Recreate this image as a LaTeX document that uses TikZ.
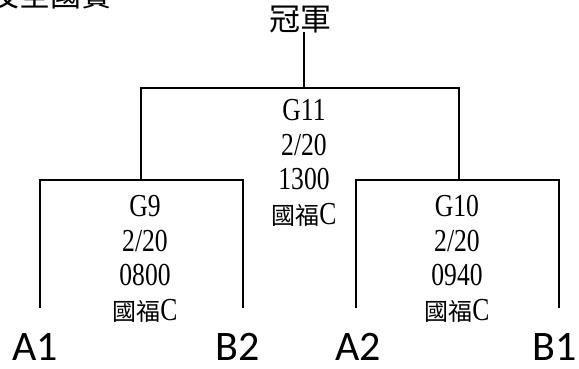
\documentclass[tikz,border=0pt]{standalone}
\usepackage{fontspec}
\setmainfont{Liberation Serif}[FakeStretch=0.8]
\newfontfamily\cjk{Noto Sans CJK TC}
\newfontfamily\teamfont{Carlito}
\newcommand{\cj}[1]{{\cjk\fontsize{24}{34.5}\selectfont #1}}
\begin{document}
\begin{tikzpicture}[x=1pt,y=-1pt,
  br/.style={line width=1.8pt,line cap=rect},
  lbl/.style={align=center,inner sep=0pt,font=\fontsize{32}{34.5}\selectfont},
  team/.style={inner sep=0pt,anchor=base,font=\teamfont\fontsize{42}{42}\selectfont},
  ttl/.style={inner sep=0pt,font=\cjk\fontsize{31}{31}\selectfont}]
\useasboundingbox (0,0) rectangle (579,368);
% cut-off heading at the top left
\begin{scope}
\clip (0,0) rectangle (579,368);
\node[ttl,anchor=south west] (head) at (-12,9) {及全國賽};
\end{scope}
\node[ttl] (champ) at (300,20) {冠軍};
% bracket points
\coordinate (c0) at (304,32);
\coordinate (c1) at (304,88);
\coordinate (tl) at (141,88);
\coordinate (tr) at (459,88);
\coordinate (ml) at (141,180);
\coordinate (mr) at (459,180);
\coordinate (l1) at (40,180);
\coordinate (l2) at (243,180);
\coordinate (r1) at (356,180);
\coordinate (r2) at (559,180);
\coordinate (l1b) at (40,307);
\coordinate (l2b) at (243,307);
\coordinate (r1b) at (356,307);
\coordinate (r2b) at (559,307);
% labels
\node[lbl] (g11) at (304,163) {G11\\2/20\\1300\\\cj{國福}C};
\node[lbl] (g9) at (145,259) {G9\\2/20\\0800\\\cj{國福}C};
\node[lbl] (g10) at (457,259) {G10\\2/20\\0940\\\cj{國福}C};
\node[team] (a1) at (35,360) {A1};
\node[team] (b2) at (238,360) {B2};
\node[team] (a2) at (358,360) {A2};
\node[team] (b1) at (555,360) {B1};
% connectors
\draw[line width=1.4pt] (c0) -- (c1);
\draw[br] (ml) -- (tl) -- (tr) -- (mr);
\draw[br] (l1b) -- (l1) -- (l2) -- (l2b);
\draw[br] (r1b) -- (r1) -- (r2) -- (r2b);
\end{tikzpicture}
\end{document}
